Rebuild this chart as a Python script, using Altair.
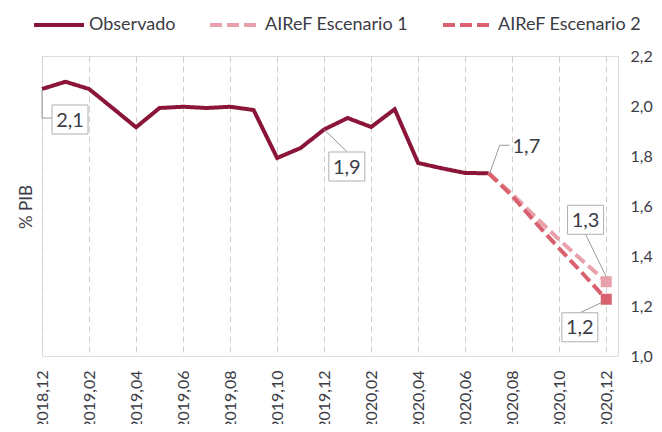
import altair as alt
import pandas as pd

# ---- data ----
TICK_LABELS = ['2018,12', '2019,02', '2019,04', '2019,06', '2019,08', '2019,10', '2019,12',
               '2020,02', '2020,04', '2020,06', '2020,08', '2020,10', '2020,12']
SERIES = ['Observado', 'AIReF Escenario 1', 'AIReF Escenario 2']

# monthly, 2018-12 (index 0) .. 2020-07 (index 19)
OBS_MONTHS = list(range(0, 20))
OBS_VALUES = [2.068, 2.097, 2.068, 1.992, 1.915, 1.992, 1.997, 1.992, 1.997, 1.984,
              1.792, 1.832, 1.906, 1.952, 1.916, 1.987, 1.772, 1.751, 1.732, 1.731]

# scenarios 2020-07 (index 19) .. 2020-12 (index 24)
ESC_MONTHS = [19, 20, 21, 22, 23, 24]
ESC1_VALUES = [1.731, 1.648, 1.555, 1.465, 1.380, 1.297]
ESC2_VALUES = [1.731, 1.640, 1.533, 1.430, 1.330, 1.227]

COLORS = ['#8a1538', '#e8a1ab', '#d9606f']
FONT = 'Lato'
TXT = '#3c3c46'

rows = []
for m, v in zip(OBS_MONTHS, OBS_VALUES):
    rows.append({'serie': SERIES[0], 'm': m, 'v': v})
for m, v in zip(ESC_MONTHS, ESC1_VALUES):
    rows.append({'serie': SERIES[1], 'm': m, 'v': v})
for m, v in zip(ESC_MONTHS, ESC2_VALUES):
    rows.append({'serie': SERIES[2], 'm': m, 'v': v})
df = pd.DataFrame(rows)

label_expr = '[' + ','.join("'%s'" % t for t in TICK_LABELS) + '][round(datum.value/2)]'

x_enc = alt.X('m:Q',
              scale=alt.Scale(domain=[0, 24.5], nice=False, zero=False),
              axis=alt.Axis(values=list(range(0, 25, 2)), labelExpr=label_expr,
                            labelAngle=270, labelFontSize=16, labelFont=FONT,
                            labelColor=TXT, labelPadding=14, ticks=False, domain=False,
                            grid=True, gridDash=[6, 4], gridColor='#cfcfcf', gridWidth=1,
                            title=None))
y_enc = alt.Y('v:Q',
              scale=alt.Scale(domain=[1.0, 2.2], nice=False, zero=False),
              axis=alt.Axis(orient='right', values=[1.0, 1.2, 1.4, 1.6, 1.8, 2.0, 2.2],
                            labelExpr="replace(format(datum.value, '.1f'), '.', ',')",
                            labelFontSize=16, labelFont=FONT, labelColor=TXT,
                            labelPadding=12, ticks=False, domain=False, grid=False,
                            title=None))

color_scale = alt.Scale(domain=SERIES, range=COLORS)
dash_scale = alt.Scale(domain=SERIES, range=[[1, 0], [12, 5], [12, 5]])
legend = alt.Legend(title=None, orient='none', legendX=-10, legendY=-58,
                    direction='horizontal', symbolType='stroke', symbolSize=2500,
                    symbolStrokeWidth=4, labelFontSize=18, labelFont=FONT,
                    labelColor=TXT, labelOffset=3, columnPadding=26)

lines = alt.Chart(df).mark_line(strokeWidth=4, strokeCap='butt').encode(
    x=x_enc, y=y_enc,
    color=alt.Color('serie:N', scale=color_scale, legend=legend, sort=SERIES),
    strokeDash=alt.StrokeDash('serie:N', scale=dash_scale, legend=legend, sort=SERIES),
    order=alt.Order('m:Q'),
)

ends = alt.Chart(df[(df.serie != SERIES[0]) & (df.m == 24)]).mark_square(
    size=121, opacity=1).encode(
    x='m:Q', y='v:Q',
    color=alt.Color('serie:N', scale=color_scale, legend=None),
)

# annotations: (series, month, text dx, text dy, boxed, leader segments)
ANNOT = [
    (SERIES[0], 0, 28, 30.5, True, [((0, 1), (0, 29)), ((0, 29), (10, 29))]),
    (SERIES[0], 12, 22.7, 37, True, [((0, 0), (22.7, 22))]),
    (SERIES[0], 19, 37.7, -27.5, False, [((1, 0), (11, -28)), ((11, -28), (21, -28))]),
    (SERIES[1], 24, -20.7, -62, True, [((0, -5), (-20.7, -47.5))]),
    (SERIES[2], 24, -26.4, 28, True, [((-4, 3), (-26.4, 13.5))]),
]

layers = []
for serie, m, dx, dy, boxed, segs in ANNOT:
    row = df[(df.serie == serie) & (df.m == m)].copy()
    row['lab'] = row['v'].map(lambda v: ('%.1f' % v).replace('.', ','))
    base = alt.Chart(row)
    for (a, b) in segs:
        layers.append(base.mark_rule(color='#9a9a9a', strokeWidth=1,
                                     xOffset=a[0], yOffset=a[1],
                                     x2Offset=b[0], y2Offset=b[1]).encode(
            x='m:Q', y='v:Q', x2='m:Q', y2='v:Q'))
    if boxed:
        layers.append(base.mark_rect(width=36, height=29, xOffset=dx, yOffset=dy,
                                     fill='white', stroke='#b0b0b0', strokeWidth=1).encode(
            x='m:Q', y='v:Q'))
    layers.append(base.mark_text(dx=dx, dy=dy + 1, fontSize=20, font=FONT, color=TXT,
                                 align='center', baseline='middle').encode(
        x='m:Q', y='v:Q', text='lab:N'))

ytitle = alt.Chart(pd.DataFrame({'t': ['% PIB']})).mark_text(
    angle=270, fontSize=17, font=FONT, color=TXT, align='center', baseline='middle'
).encode(x=alt.value(-15), y=alt.value(151), text='t:N')

chart = alt.layer(lines, ends, *layers, ytitle).properties(
    width=576, height=300,
    autosize=alt.AutoSizeParams(type='none'),
    padding={'left': 34, 'top': 48, 'right': 36, 'bottom': 68},
).configure_view(stroke='#a6a6a6', strokeWidth=1.5).configure(background='white')

chart.save('out.html', embed_options={'renderer': 'svg', 'actions': False})
